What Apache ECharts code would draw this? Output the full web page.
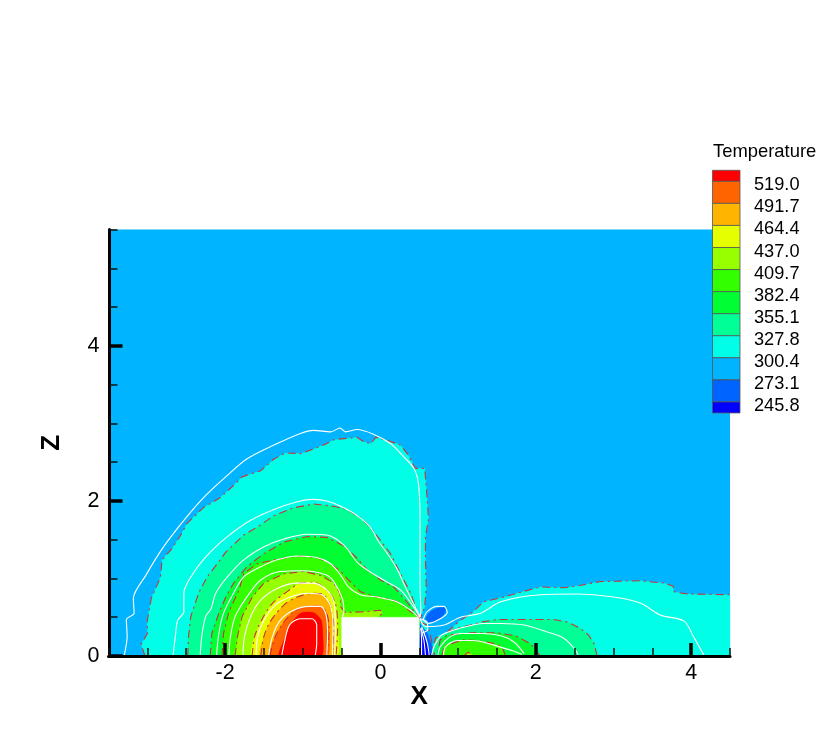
<!DOCTYPE html>
<html><head><meta charset="utf-8">
<style>html,body{margin:0;padding:0;background:#fff}#c{width:830px;height:739px}</style>
<script src="https://cdn.jsdelivr.net/npm/echarts@6/dist/echarts.min.js"></script>
</head><body><div id="c"></div>
<script>
// ---- legend ----
const legendTitle = 'Temperature';
const levelLabels = ['519.0','491.7','464.4','437.0','409.7','382.4','355.1','327.8','300.4','273.1','245.8'];
const levelColors = ['#FF0000','#FF6400','#FFB400','#E6FF00','#96FF00','#32FF00','#00FF32','#00FF96','#00FFE6','#00B4FF','#0064FF','#0000FF'];
// ---- axis ticks ----
const xMajor = [-2,0,2,4];
const xMinor = [-3.5,-3,-2.5,-1.5,-1,-0.5,0.5,1,1.5,2.5,3,3.5,4.5];
const zMajor = [0,2,4];
const zMinor = [0.5,1,1.5,2.5,3,3.5,4.5,5,5.5];
// ---- main plume: band edges [x,z] ----
const edge327 = [[-3.03,0],[-3.08,.15],[-3,.29],[-3,.46],[-2.95,.74],[-2.83,1.02],[-2.81,1.24],[-2.68,1.39],[-2.57,1.56],[-2.49,1.71],[-2.27,1.92],[-2.08,2.03],[-1.91,2.18],[-1.78,2.31],[-1.54,2.39],[-1.37,2.54],[-1.22,2.62],[-1.03,2.61],[-.86,2.67],[-.69,2.74],[-.6,2.79],[-.3,2.82],[-.21,2.76],[-.12,2.74],[-.06,2.82],[.09,2.78],[.26,2.72],[.36,2.59],[.45,2.42],[.57,2.42],[.59,2.18],[.62,1.77],[.58,1.54],[.58,1.24],[.59,.89],[.57,.63],[.51,.48]];
const edge355 = [[-2.48,0],[-2.47,.25],[-2.44,.51],[-2.34,.81],[-2.23,1.02],[-2.1,1.19],[-1.99,1.34],[-1.76,1.56],[-1.59,1.66],[-1.37,1.81],[-1.12,1.91],[-.86,1.96],[-.6,1.93],[-.43,1.89],[-.24,1.77],[-.13,1.66],[0,1.49],[.13,1.32],[.26,1.06],[.39,.81],[.47,.59],[.51,.48]];
const edge382 = [[-2.19,0],[-2.17,.29],[-2.08,.55],[-1.99,.76],[-1.89,.94],[-1.72,1.15],[-1.5,1.32],[-1.24,1.47],[-.94,1.54],[-.69,1.53],[-.47,1.42],[-.3,1.26],[-.17,1.11],[0,.98],[.17,.89],[.34,.7],[.47,.53],[.51,.48]];
const edge409 = [[-2.04,0],[-2.02,.29],[-1.95,.57],[-1.82,.85],[-1.76,1.06],[-1.59,1.19],[-1.37,1.24],[-1.07,1.29],[-.82,1.27],[-.64,1.19],[-.51,1.09],[-.41,.98],[-.26,.83],[-.09,.77],[.09,.74],[.24,.69],[.34,.61],[.47,.51],[.51,.48]];
const edge437 = [[-1.87,0],[-1.84,.25],[-1.78,.51],[-1.65,.76],[-1.5,.94],[-1.24,1.06],[-.99,1.09],[-.77,1.04],[-.6,.94],[-.52,.81],[-.51,.63],[-.45,.56],[-.21,.57],[0,.59],[.03,.55],[-.04,.5]];
const edge464 = [[-1.65,0],[-1.62,.25],[-1.52,.48],[-1.39,.68],[-1.2,.83],[-1.03,.94],[-.86,.95],[-.69,.85],[-.58,.68],[-.55,.38],[-.57,0]];
const edge491 = [[-1.54,0],[-1.5,.25],[-1.42,.44],[-1.24,.66],[-1.07,.76],[-.86,.81],[-.73,.79],[-.64,.64],[-.6,.38],[-.62,0]];
const edge519 = [[-1.42,0],[-1.37,.21],[-1.27,.4],[-1.12,.57],[-.94,.64],[-.77,.64],[-.69,.55],[-.66,.33],[-.69,0]];
const edgeTop = [[-1.3,0],[-1.24,.21],[-1.16,.4],[-1.03,.55],[-.86,.56],[-.76,.46],[-.74,.25],[-.76,0]];
// ---- main plume: white contour lines ----
const white1 = [[-3.3,0],[-3.26,.25],[-3.27,.47],[-3.17,.55],[-3.18,.74],[-3.02,1.04],[-2.79,1.41],[-2.53,1.75],[-2.27,2.05],[-1.97,2.33],[-1.72,2.54],[-1.37,2.72],[-1.03,2.87],[-.86,2.91],[-.64,2.89],[-.52,2.94],[-.45,2.89],[-.3,2.92],[-.09,2.86],[.13,2.74],[.28,2.59],[.43,2.42],[.49,2.22],[.51,1.75],[.51,1.32],[.51,.89],[.52,.59],[.51,.5]];
const white2 = [[-2.67,0],[-2.64,.25],[-2.61,.46],[-2.53,.57],[-2.53,.81],[-2.38,1.11],[-2.19,1.34],[-1.97,1.54],[-1.67,1.75],[-1.37,1.89],[-1.07,1.99],[-.86,2.02],[-.69,2],[-.51,1.93],[-.3,1.81],[-.13,1.66],[-.02,1.47],[.09,1.32],[.21,1.13],[.34,.85],[.45,.63],[.51,.51]];
const white3 = [[-2.32,0],[-2.3,.25],[-2.25,.51],[-2.18,.61],[-2.12,.81],[-1.97,1.02],[-1.76,1.24],[-1.5,1.41],[-1.24,1.51],[-.94,1.57],[-.69,1.56],[-.47,1.43],[-.3,1.21],[-.17,1.11],[.04,.98],[.26,.85],[.43,.63],[.51,.5]];
const white4 = [[-2.11,0],[-2.08,.29],[-2.02,.55],[-1.89,.81],[-1.76,1.02],[-1.54,1.15],[-1.33,1.24],[-1.07,1.29],[-.82,1.27],[-.64,1.19],[-.51,1.04],[-.41,.89],[-.26,.79],[-.04,.76],[.21,.7],[.39,.59],[.49,.5]];
const white5 = [[-1.95,0],[-1.93,.25],[-1.87,.51],[-1.72,.76],[-1.54,.98],[-1.29,1.09],[-.99,1.1],[-.71,1.05],[-.6,.96],[-.49,.74],[-.47,.57],[-.49,.5]];
const white6 = [[-1.77,0],[-1.75,.25],[-1.67,.51],[-1.54,.72],[-1.33,.87],[-1.07,.94],[-.86,.94],[-.69,.85],[-.6,.7],[-.58,.38],[-.59,0]];
const white7 = [[-1.6,0],[-1.58,.25],[-1.5,.46],[-1.35,.66],[-1.16,.76],[-.94,.81],[-.75,.79],[-.64,.64],[-.61,.38],[-.62,0]];
const white8 = [[-1.44,0],[-1.39,.25],[-1.29,.46],[-1.12,.59],[-.92,.64],[-.77,.64],[-.7,.53],[-.68,.29],[-.69,0]];
const white9 = [[-1.27,0],[-1.24,.16],[-1.17,.4],[-1.03,.48],[-.88,.48],[-.82,.4],[-.82,.16],[-.84,0]];
// ---- right lobe ----
const lobe327 = [[.86,.31],[1.03,.46],[1.18,.56],[1.33,.7],[1.59,.76],[1.87,.84],[2.06,.89],[2.36,.88],[2.57,.91],[2.83,.96],[3.35,.97],[3.65,.94],[3.77,.9],[3.77,.83],[3.95,.8],[4.5,.79]];
const lobe327Close = [[4.5,0],[.65,0],[.68,.15],[.74,.26]];
const lobe355 = [[2.79,0],[2.75,.16],[2.68,.27],[2.57,.36],[2.4,.44],[2.23,.47],[1.89,.47],[1.5,.47],[1.31,.44],[1.16,.4],[.99,.36],[.82,.29],[.71,.23],[.66,0]];
const lobe382 = [[2.06,0],[2.02,.05],[1.93,.16],[1.74,.26],[1.5,.3],[1.18,.3],[.86,.27],[.77,.21],[.73,0]];
const lobe409 = [[1.61,0],[1.57,.11],[1.48,.16],[1.24,.2],[1.07,.21],[.82,.13],[.79,0]];
const lobe437 = [[1.07,0],[1.13,.05],[1.2,0]];
const lobeWhite1 = [[.51,.48],[.58,.38],[.82,.4],[1.03,.5],[1.29,.55],[1.55,.7],[2.06,.79],[2.53,.8],[3,.76],[3.35,.68],[3.6,.53],[3.91,.45],[4.03,.25],[4.17,0]];
const lobeWhite2 = [[2.55,0],[2.51,.08],[2.36,.23],[2.15,.31],[1.85,.4],[1.55,.42],[1.33,.42],[1.03,.36],[.79,.27],[.69,.12],[.66,0]];
const lobeWhite3 = [[1.85,.03],[1.72,.18],[1.55,.26],[1.29,.29],[1.03,.29],[.9,.25],[.77,.12],[.74,0]];
const lobeWhite4 = [[1.82,.02],[1.72,.06],[1.46,.14],[1.2,.2],[.99,.2],[.84,.12],[.81,0]];
// ---- cold pocket behind the block ----
const teardrop = [[.58,.46],[.62,.55],[.71,.61],[.83,.62],[.83,.55],[.73,.46],[.62,.44]];
const teardropWhite = [[.55,.47],[.6,.57],[.73,.64],[.82,.64],[.86,.56],[.77,.48],[.62,.42],[.55,.47]];
const pocketCyan = [[.51,.48],[.6,.44],[.61,.34],[.54,.3],[.51,.35]];
const fan273 = [[.51,.42],[.6,.3],[.66,.15],[.68,0],[.505,0]];
const fan245 = [[.51,.36],[.57,.24],[.62,.1],[.65,0],[.505,0]];
const fanWhite1 = [[.52,.36],[.53,.2],[.53,0]];
const fanWhite2 = [[.52,.36],[.56,.2],[.58,0]];
const fanWhite3 = [[.53,.38],[.6,.18],[.63,0]];
const pocketWhite = [[.51,.48],[.6,.44],[.61,.34],[.54,.3]];
const pocketEdge = [[.51,.44],[.6,.4],[.64,.28],[.68,.1],[.7,0]];
// ---- solid block ----
const block = [[-.5,0],[.5,0],[.5,.5],[-.5,.5]];
const blockCorner = [[.5,0]];
const patchClose = [[-.5,.4],[-.5,0]];

const FONT = 'Liberation Sans';
function fill(points,color,smooth){
  return {type:'custom',coordinateSystem:'cartesian2d',xAxisIndex:0,yAxisIndex:0,silent:true,animation:false,clip:true,z:2,
    data:points,encode:{x:0,y:1},
    renderItem:(p,api)=>p.dataIndex===0?{type:'polygon',shape:{points:points.map(q=>api.coord(q)),smooth:smooth||0},style:{fill:color,stroke:color,lineWidth:.3}}:null};
}
function line(points,style,smooth,z){
  return {type:'line',xAxisIndex:0,yAxisIndex:0,data:points,symbol:'none',silent:true,animation:false,clip:true,smooth:smooth,z:z,lineStyle:style};
}
const wStyle = {color:'#ffffff',width:1.1};
const rStyle = {color:'#c8323a',width:1.1,type:[8,4,2,4]};
const fills = [
  fill(edge327.concat(blockCorner),levelColors[8]),
  fill(lobe327.concat(lobe327Close),levelColors[8]),
  fill(edge355.concat(blockCorner),levelColors[7]),
  fill(lobe355,levelColors[7]),
  fill(edge382.concat(blockCorner),levelColors[6]),
  fill(lobe382,levelColors[6]),
  fill(edge409.concat(blockCorner),levelColors[5]),
  fill(lobe409,levelColors[5]),
  fill(lobe437,levelColors[4]),
  fill(edge437.concat(patchClose),levelColors[4]),
  fill(edge464,levelColors[3],.25),
  fill(edge491,levelColors[2],.25),
  fill(edge519,levelColors[1],.25),
  fill(edgeTop,levelColors[0],.25),
  fill(pocketCyan,levelColors[8]),
  fill(fan273,levelColors[10]),
  fill(fan245,levelColors[11]),
  fill(teardrop,levelColors[10],.3)
];
const reds = [edge327,edge355,edge382,edge409,edge437,lobe327,lobe355,lobe382,lobe409,lobe437,pocketEdge].map(a=>line(a,rStyle,false,3))
  .concat([edge464,edge491,edge519].map(a=>line(a,rStyle,0.3,3)));
const whites = [white1,white2,white3,white4,white5,white6,white7,white8,white9,lobeWhite1,lobeWhite2,lobeWhite3,lobeWhite4,teardropWhite,fanWhite1,fanWhite2,fanWhite3,pocketWhite].map(a=>line(a,wStyle,0.3,4));
const blockSeries = fill(block,'#ffffff'); blockSeries.z = 5;

// ---- legend graphics ----
const legTop = 170.3, legStep = 22.06, legLeft = 712.5, legWidth = 27.5;
const legendEls = [{type:'text',left:713,top:143,style:{text:legendTitle,font:'18.4px "'+FONT+'"',fill:'#000'},z:20}];
levelColors.forEach((c,i)=>{
  const y0 = i===0?legTop:legTop+legStep*(i-.5);
  const y1 = i===levelColors.length-1?legTop+legStep*(i-.5)+legStep/2:legTop+legStep*(i+.5);
  legendEls.push({type:'rect',shape:{x:legLeft,y:y0,width:legWidth,height:y1-y0},style:{fill:c,stroke:'#555',lineWidth:.8},z:20});
});
levelLabels.forEach((t,i)=>{
  legendEls.push({type:'text',x:754,y:legTop+legStep*(i+.5)+4,style:{text:t,font:'18.2px "'+FONT+'"',fill:'#000',verticalAlign:'middle',textAlign:'left'},z:20});
});

const axisFont = {fontFamily:FONT,fontSize:21.5,color:'#000'};
const option = {
  backgroundColor:'#fff',
  animation:false,
  grid:{left:108.5,right:100,top:229.5,bottom:83,show:true,backgroundColor:levelColors[9],borderWidth:0},
  xAxis:[
    {type:'value',min:-3.5,max:4.5,interval:.5,position:'bottom',z:10,name:'X',nameLocation:'middle',nameGap:28,nameMoveOverlap:false,
     nameTextStyle:{fontFamily:FONT,fontSize:26,fontWeight:'bold',color:'#000'},
     splitLine:{show:false},
     axisLine:{show:true,onZero:false,lineStyle:{color:'#000',width:3}},
     axisTick:{show:true,inside:true,length:13,customValues:xMajor,lineStyle:{color:'#000',width:3.5}},
     axisLabel:Object.assign({show:true,margin:6,customValues:xMajor,formatter:v=>String(v),hideOverlap:false},axisFont)},
    {type:'value',min:-3.5,max:4.5,interval:.5,position:'bottom',z:10,
     splitLine:{show:false},axisLine:{show:false,onZero:false},axisLabel:{show:false},
     axisTick:{show:true,inside:true,length:8,customValues:xMinor,lineStyle:{color:'#111',width:1.5}}}
  ],
  yAxis:[
    {type:'value',min:0,max:5.5,interval:.5,position:'left',offset:-1,z:10,name:'Z',nameLocation:'middle',nameGap:45,nameMoveOverlap:false,
     nameTextStyle:{fontFamily:FONT,fontSize:26,fontWeight:'bold',color:'#000'},
     splitLine:{show:false},
     axisLine:{show:true,onZero:false,lineStyle:{color:'#000',width:3}},
     axisTick:{show:true,inside:true,length:13,customValues:zMajor,lineStyle:{color:'#000',width:3.5}},
     axisLabel:Object.assign({show:true,margin:10,customValues:zMajor,formatter:v=>String(v)},axisFont)},
    {type:'value',min:0,max:5.5,interval:.5,position:'left',offset:-1,z:10,
     splitLine:{show:false},axisLine:{show:false,onZero:false},axisLabel:{show:false},
     axisTick:{show:true,inside:true,length:8,customValues:zMinor,lineStyle:{color:'#111',width:1.5}}}
  ],
  series:fills.concat(reds,whites,[blockSeries]),
  graphic:{elements:legendEls}
};
echarts.init(document.getElementById('c'),null,{renderer:'canvas'}).setOption(option);
</script></body></html>
